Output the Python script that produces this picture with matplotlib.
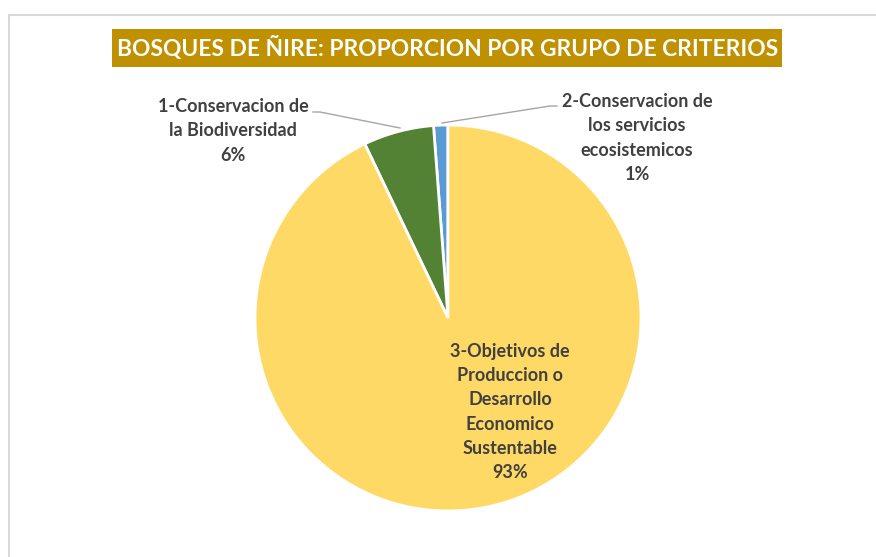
import matplotlib.pyplot as plt
from matplotlib.patches import Rectangle
from matplotlib.lines import Line2D

# data
labels = ["2-Conservacion de\nlos servicios\necosistemicos",
          "1-Conservacion de\nla Biodiversidad",
          "3-Objetivos de\nProduccion o\nDesarrollo\nEconomico\nSustentable"]
values = [1.2, 5.9, 92.9]
pct_labels = ["1%", "6%", "93%"]
colors = ["#5B9BD5", "#548235", "#FFD966"]
title = "BOSQUES DE ÑIRE: PROPORCION POR GRUPO DE CRITERIOS"

W, H = 876, 557
fig = plt.figure(figsize=(W / 100, H / 100), dpi=100)
ax = fig.add_axes([0, 0, 1, 1])

# chart-area frame (light gray, runs off right/bottom)
fig.add_artist(Line2D([8.5 / W, 8.5 / W], [0, 1 - 14.5 / H], color="#D9D9D9", lw=1.5))
fig.add_artist(Line2D([8.5 / W, 1], [1 - 14.5 / H, 1 - 14.5 / H], color="#D9D9D9", lw=1.5))

# pie, centre/radius in pixel units
cx, cy, r = 448, H - 318, 193
ax.pie(values, colors=colors, startangle=90, counterclock=True,
       center=(cx, cy), radius=r, frame=True,
       wedgeprops=dict(edgecolor="white", linewidth=2))
ax.set_xlim(0, W)
ax.set_ylim(0, H)
ax.set_aspect("equal")
ax.axis("off")

font = dict(family=["Lato", "DejaVu Sans"], fontweight="bold", color="#404040",
            fontsize=13, linespacing=1.52, ha="center", va="center")

# data labels
ax.text(637, H - 138, labels[0] + "\n" + pct_labels[0], **font)
ax.text(233, H - 131, labels[1] + "\n" + pct_labels[1], **font)
ax.text(510, H - 412, labels[2] + "\n" + pct_labels[2], **font)

# leader lines
lc = "#A6A6A6"
ax.plot([313, 320, 400], [H - 112, H - 112, H - 128], color=lc, lw=1)
ax.plot([557, 550, 442], [H - 106, H - 106, H - 123], color=lc, lw=1)

# title box
ax.add_patch(Rectangle((112, H - 67), 670, 38, facecolor="#BF9000", edgecolor="none"))
ax.text(448, H - 48, title, family=["Lato", "DejaVu Sans"], fontweight="bold",
        color="white", fontsize=16.4, ha="center", va="center")

fig.savefig("out.png", dpi=100)
